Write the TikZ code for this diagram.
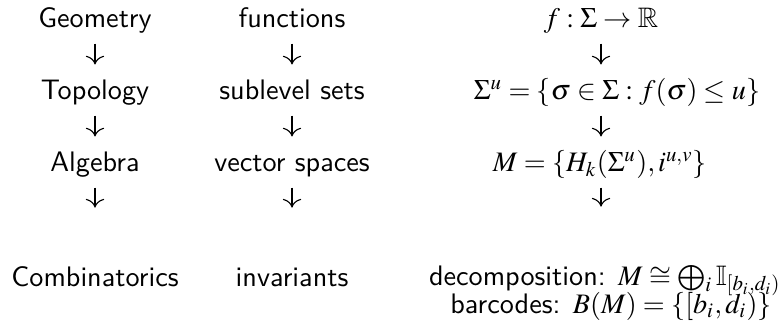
\documentclass[tikz,border=0pt]{standalone}
\usepackage{mathptmx}
\usepackage{amssymb}
\usetikzlibrary{arrows.meta}

\begin{document}
\begin{tikzpicture}[
  x=0.3546pt, y=-0.3546pt,
  every node/.style={font=\sffamily, inner sep=0pt, anchor=base,
    text height=8pt, text depth=3pt},
  maps/.style={-{Computer Modern Rightarrow[scale=1.25]}, line width=0.4pt,
    shorten <=2.3pt, shorten >=4.4pt}
]
  \useasboundingbox (0,0) rectangle (782,324);

  % left column
  \node (geo) at (95,28) {Geometry};
  \node (top) at (95,100) {Topology};
  \node (alg) at (95,172) {Algebra};
  \node (comb) at (95,286) {Combinatorics};

  % middle column
  \node (fun) at (292,28) {functions};
  \node (sub) at (292,100) {sublevel sets};
  \node (vec) at (292,172) {vector spaces};
  \node (inv) at (292,286) {invariants};

  % right column
  \node (fmap) at (601,28) {$f:\Sigma\to\mathbb{R}$};
  \node (sigu) at (617,100) {$\Sigma^u=\{\sigma\in\Sigma : f(\sigma)\le u\}$};
  \node (mmod) at (600,172) {$M=\{H_k(\Sigma^u), i^{u,v}\}$};
  \node (dec) at (605,285) {decomposition: $M\cong\bigoplus_i\mathbb{I}_{[b_i,d_i)}$};
  \node (bar) at (611,313) {barcodes: $B(M)=\{[b_i,d_i)\}$};

  \draw[maps] (geo) -- (top);
  \draw[maps] (top) -- (alg);
  \draw[maps, shorten >=19.6pt] (alg) -- (comb);
  \draw[maps] (fun) -- (sub);
  \draw[maps] (sub) -- (vec);
  \draw[maps, shorten >=19.6pt] (vec) -- (inv);
  \draw[maps] (fmap.south) -- (fmap.south |- sigu.north);
  \draw[maps] (sigu.south -| fmap) -- (fmap |- mmod.north);
  \draw[maps, shorten >=19.6pt] (mmod.south -| fmap) -- (fmap |- dec.north);
\end{tikzpicture}
\end{document}
